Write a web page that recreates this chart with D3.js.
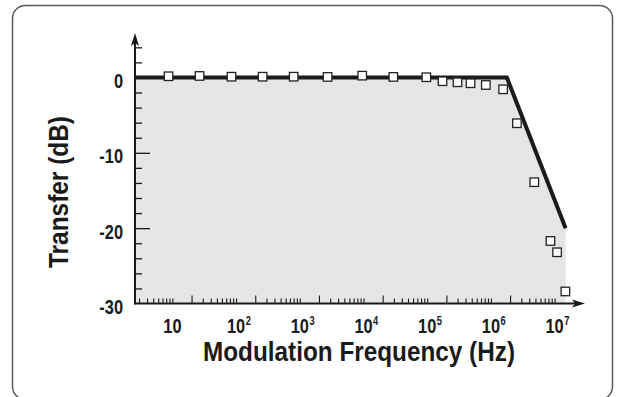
<!DOCTYPE html>
<html>
<head>
<meta charset="utf-8">
<script src="https://cdn.jsdelivr.net/npm/d3@7"></script>
<style>
  html, body { margin: 0; padding: 0; background: #fff; }
  svg { display: block; }
  text { font-family: "Liberation Sans", Arial, sans-serif; font-weight: bold; fill: #1a1a1a; }
</style>
</head>
<body>
<svg id="chart" width="617" height="397"></svg>
<script>
// ---- data ----
const measuredFreq = [8.7, 26.7, 84.7, 261, 802, 2730, 9550, 29400, 97000, 174000, 299000, 479000, 832000, 1.555e6, 2.56e6, 4.8e6, 8.6e6, 1.094e7, 1.476e7];
const measuredDb   = [0.16, 0.2, 0.1, 0.1, 0.1, 0.07, 0.24, 0.07, 0.03, -0.5, -0.64, -0.77, -1.0, -1.57, -6.08, -13.9, -21.7, -23.2, -28.4];
const modelFreq = [2.59, 1.78e6, 1.49e7];
const modelDb   = [0, 0, -20];
const xDecades = [1, 2, 3, 4, 5, 6, 7];       // label exponents
const yLabels  = [0, -10, -20, -30];
const yMinorTicks = [4, 2, 0, -2, -4, -6, -8, -12, -14, -16, -18, -22, -24, -26, -28];
const yMajorTicks = [-10, -20];
const xTitle = "Modulation Frequency (Hz)";
const yTitle = "Transfer (dB)";

const svg = d3.select("#chart");
const ink = "#1a1a1a";
const SX = 0.78; // condensed look

function label(g, px, py, str, size, anchor, sx, rot) {
  const grp = g.append("g").attr("transform", `translate(${px},${py})` + (rot ? ` rotate(${rot})` : "") + ` scale(${sx},1)`);
  const t = grp.append("text").attr("x", 0).attr("y", 0)
    .attr("text-anchor", anchor).attr("font-size", size).text(str);
  return t;
}

// frame
svg.append("rect")
  .attr("x", 12.5).attr("y", 5.5).attr("width", 600).attr("height", 394)
  .attr("rx", 13).attr("ry", 13)
  .attr("fill", "none").attr("stroke", "#5a5a5a").attr("stroke-width", 1.5);

const x = d3.scaleLog().domain([2.59, 3.0e7]).range([135, 585]);
const y = d3.scaleLinear().domain([-30, 5.9]).range([303.5, 33]);

const model = modelFreq.map((f, i) => ({f, d: modelDb[i]}));
const pts = measuredFreq.map((f, i) => ({f, d: measuredDb[i]}));

// shaded area under the model
svg.append("path")
  .datum(model)
  .attr("fill", "#e5e4e6")
  .attr("d", d3.area().x(p => x(p.f)).y0(y(-30)).y1(p => y(p.d)));

// x minor ticks: k * 10^n, k = 2..10
const xTickVals = [];
const xTallVals = [];
for (let n = 0; n <= 6; n++) {
  for (let k = 2; k <= 10; k++) {
    const v = k * Math.pow(10, n);
    if (v >= x.domain()[0] && v <= 1e7 * 1.0001) {
      if (k === 2) xTallVals.push(v); else xTickVals.push(v);
    }
  }
}
const gx = svg.append("g").attr("transform", `translate(0,${y(-30)})`);
gx.call(d3.axisTop(x).tickValues(xTickVals).tickSize(5).tickFormat(""));
gx.append("g").call(d3.axisTop(x).tickValues(xTallVals).tickSize(8).tickFormat(""));
gx.selectAll(".domain").remove();
gx.selectAll("line").attr("stroke", ink).attr("stroke-width", 1.1);

// y ticks (pointing right into plot)
const gy = svg.append("g").attr("transform", `translate(135,0)`);
gy.call(d3.axisRight(y).tickValues(yMinorTicks).tickSize(7).tickFormat(""));
gy.append("g").call(d3.axisRight(y).tickValues(yMajorTicks).tickSize(15).tickFormat(""));
gy.selectAll(".domain").remove();
gy.selectAll("line").attr("stroke", ink).attr("stroke-width", 1.3);

// axis lines with arrows
const x0 = x.range()[0], x1 = x.range()[1];
const yb = y(-30), yt = y.range()[1];
svg.append("line").attr("x1", x0).attr("x2", x1 - 6).attr("y1", yb).attr("y2", yb)
  .attr("stroke", ink).attr("stroke-width", 2);
svg.append("line").attr("x1", x0).attr("x2", x0).attr("y1", yb + 1).attr("y2", yt + 6)
  .attr("stroke", ink).attr("stroke-width", 2);
svg.append("path").attr("fill", ink)
  .attr("d", `M${x1},${yb} L${x1 - 13},${yb - 4} L${x1 - 10},${yb} L${x1 - 13},${yb + 4} Z`);
svg.append("path").attr("fill", ink)
  .attr("d", `M${x0},${yt} L${x0 - 4},${yt + 13} L${x0},${yt + 10} L${x0 + 4},${yt + 13} Z`);

// model line
svg.append("path")
  .datum(model)
  .attr("fill", "none").attr("stroke", ink).attr("stroke-width", 4)
  .attr("stroke-linejoin", "miter")
  .attr("d", d3.line().x(p => x(p.f)).y(p => y(p.d)));

// measured squares
const s = 8.5;
svg.append("g").selectAll("rect").data(pts).join("rect")
  .attr("x", p => x(p.f) - s / 2).attr("y", p => y(p.d) - s / 2)
  .attr("width", s).attr("height", s)
  .attr("fill", "#fff").attr("stroke", "#222").attr("stroke-width", 1.3);

// y labels
const yl = svg.append("g");
yLabels.forEach(d => label(yl, 123, y(d) + 10.5, d === 0 ? "0" : "-" + Math.abs(d), 21, "end", SX));

// x labels: "10" centred on decade, superscript exponent to the right
const xl = svg.append("g");
xDecades.forEach(e => {
  const cx = x(Math.pow(10, e));
  const t = label(xl, cx, 333, "10", 21, "middle", SX);
  if (e > 1) {
    const w = t.node().getComputedTextLength() * SX;
    label(xl, cx + w / 2 + 0.5, 325, String(e), 12, "start", SX).attr("font-weight", "normal");
  }
});

// titles
const tx = label(svg, 359, 361, xTitle, 27, "middle", 1);
const wx = tx.node().getComputedTextLength();
tx.node().parentNode.setAttribute("transform", `translate(359,361) scale(${312 / wx},1)`);
const ty = label(svg, 68, 192, yTitle, 27, "middle", 1, -90);
const wy = ty.node().getComputedTextLength();
ty.node().parentNode.setAttribute("transform", `translate(68,192) rotate(-90) scale(${152 / wy},1)`);
</script>
</body>
</html>
